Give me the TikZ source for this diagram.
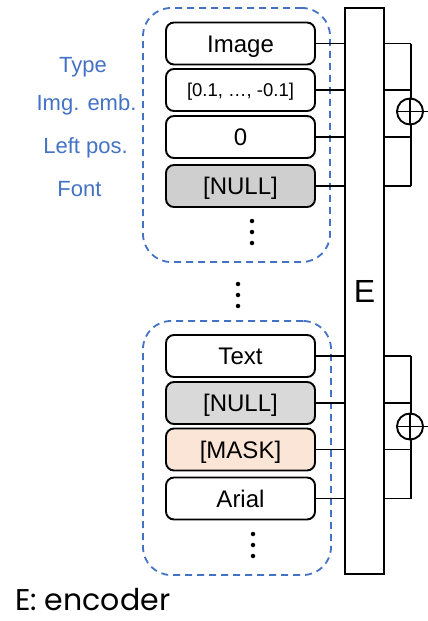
\documentclass[tikz,border=0pt]{standalone}
\usepackage{fontspec}
\setmainfont{Liberation Sans}
\newfontfamily\poppins{Poppins}
\definecolor{grpblue}{HTML}{4472C4}
\definecolor{nullgray}{HTML}{CFCFCF}
\definecolor{nullgraylt}{HTML}{D9D9D9}
\definecolor{maskpeach}{HTML}{FBE5D6}
\begin{document}
\begin{tikzpicture}[x=1pt,y=-1pt,
  field/.style={draw, line width=1.9pt, rounded corners=8pt, fill=white,
    minimum width=149pt, minimum height=42pt, inner sep=0pt,
    font=\fontsize{24}{24}\selectfont, text height=17pt, text depth=0pt},
  group/.style={draw=grpblue, line width=1.8pt, dash pattern=on 7pt off 5pt,
    rounded corners=28pt, inner sep=0pt},
  lbl/.style={text=grpblue, font=\fontsize{22}{22}\selectfont, anchor=base},
  wire/.style={line width=1.9pt},
  sum/.style={draw, circle, line width=1.9pt, fill=white, minimum size=26pt, inner sep=0pt,
    path picture={\draw[line width=1.9pt]
      (path picture bounding box.north) -- (path picture bounding box.south)
      (path picture bounding box.west) -- (path picture bounding box.east);}},
  dotmark/.style={circle, fill=black, inner sep=0pt, minimum size=4.5pt}
]
\useasboundingbox (0,0) rectangle (428,621);

% dashed groups of input fields
\node[group, minimum width=187pt, minimum height=254pt] (grpA) at (236.5,135) {};
\node[group, minimum width=188pt, minimum height=254pt] (grpB) at (237,448) {};

% encoder
\node[draw, line width=1.9pt, fill=white, minimum width=39pt, minimum height=566pt,
  inner sep=0pt, font=\fontsize{32}{32}\selectfont, text height=23pt, text depth=0pt]
  (enc) at (364.5,291) {E};

% first token fields
\node[field] (img) at (240.5,43.5) {Image};
\node[field, font=\fontsize{18.5}{18.5}\selectfont, text height=13pt] (emb) at (240.5,90) {[0.1, \dots, -0.1]};
\node[field] (pos) at (240.5,137) {0};
\node[field, fill=nullgray] (fontA) at (240.5,186) {[NULL]};

% second token fields
\node[field] (txt) at (240.5,356) {Text};
\node[field, fill=nullgraylt] (nullB) at (240.5,403) {[NULL]};
\node[field, fill=maskpeach] (mask) at (240.5,449.5) {[MASK]};
\node[field] (arial) at (240.5,498.5) {Arial};

% field labels
\node[lbl] (lType) at (83,72) {Type};
\node[lbl] (lEmb) at (86.5,110) {Img. emb.};
\node[lbl] (lPos) at (85.5,153) {Left pos.};
\node[lbl] (lFont) at (79.5,196) {Font};

% ellipses
\foreach \n/\x/\y in {a/252/221, b/252/232, c/252/243, d/238/284, e/238/295, f/238/306,
                      g/253/534, h/253/545, i/253/556}
  \node[dotmark] (dot\n) at (\x,\y) {};

% fields into the encoder
\foreach \f in {img, emb, pos, fontA, txt, nullB, mask, arial}
  \draw[wire] (\f.east) -- (\f.east -| enc.west);

% summation of encoder outputs
\coordinate (busA) at (411,0);
\coordinate (busB) at (411,0);
\foreach \f in {img, emb, pos, fontA}
  \draw[wire] (\f.east -| enc.east) -- (\f.east -| busA);
\draw[wire] (img.east -| busA) -- (fontA.east -| busA);
\foreach \f in {txt, nullB, mask, arial}
  \draw[wire] (\f.east -| enc.east) -- (\f.east -| busB);
\draw[wire] (txt.east -| busB) -- (arial.east -| busB);

\node[sum] (sumA) at (410,111.5) {};
\node[sum] (sumB) at (410,426.5) {};
\coordinate (outA) at (430,111.5);
\coordinate (outB) at (430,426.5);
\draw[wire] (sumA.east) -- (outA);
\draw[wire] (sumB.east) -- (outB);

% legend
\node[font=\poppins\fontsize{30}{30}\selectfont, anchor=base west, inner sep=0pt] (legend) at (15,610) {E: encoder};
\end{tikzpicture}
\end{document}
